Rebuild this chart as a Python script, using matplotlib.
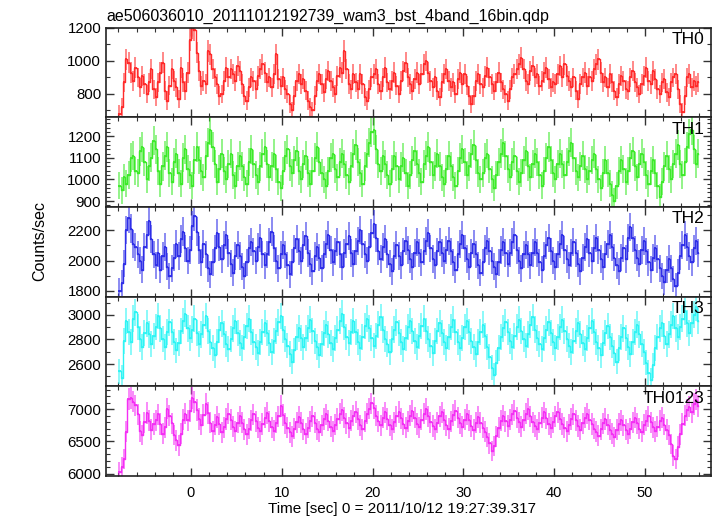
import numpy as np
import matplotlib
matplotlib.use("Agg")
import matplotlib.pyplot as plt
from matplotlib.ticker import MultipleLocator

plt.rcParams["font.family"] = ["Liberation Sans", "DejaVu Sans"]

title = "ae506036010_20111012192739_wam3_bst_4band_16bin.qdp"
xlabel = "Time [sec] 0 = 2011/10/12 19:27:39.317"
ylabel = "Counts/sec"
binsize = 0.25
t_start = -8.0

names = ["TH0", "TH1", "TH2", "TH3", "TH0123"]
colors = ["#ff2a2a", "#3dea2a", "#2e2ee8", "#2ef4f4", "#f42ef4"]

# count rates, 0.25 s bins from t = -8 s
th0 = [680, 720, 870, 1010, 990, 930, 880, 960, 900, 840, 910, 860, 800, 870, 950, 830,
       780, 870, 930, 990, 820, 760, 850, 950, 880, 840, 770, 960, 870, 820, 930, 1130,
       1200, 1190, 1050, 940, 850, 880, 860, 1060, 1040, 950, 900, 860, 790, 800, 880, 960,
       900, 950, 920, 880, 970, 940, 860, 790, 760, 840, 900, 880, 830, 910, 950, 980,
       930, 870, 900, 840, 920, 1040, 890, 850, 900, 830, 800, 740, 700, 790, 880, 920,
       860, 890, 820, 760, 720, 700, 790, 880, 920, 860, 810, 890, 940, 880, 840, 800,
       910, 960, 930, 1060, 950, 860, 830, 920, 870, 830, 920, 860, 780, 760, 830, 900,
       920, 950, 860, 820, 900, 960, 870, 830, 880, 930, 850, 800, 880, 940, 990, 900,
       860, 820, 890, 930, 860, 920, 980, 1000, 930, 880, 840, 900, 820, 780, 870, 920,
       950, 880, 840, 870, 800, 890, 930, 860, 920, 850, 790, 740, 790, 880, 920, 860,
       840, 910, 960, 900, 860, 820, 870, 930, 870, 830, 800, 760, 830, 900, 920, 950,
       980, 1020, 950, 880, 860, 940, 970, 900, 920, 850, 880, 930, 960, 890, 840, 870,
       860, 920, 970, 900, 980, 910, 880, 840, 900, 820, 770, 860, 900, 930, 850, 900,
       880, 950, 980, 1010, 930, 870, 900, 840, 920, 870, 820, 780, 860, 910, 880, 830,
       820, 900, 940, 870, 840, 800, 860, 910, 960, 880, 860, 940, 890, 830, 800, 870,
       890, 810, 780, 870, 900, 920, 830, 740, 690, 790, 900, 920, 840, 880, 850, 870]

th1 = [970, 950, 1010, 980, 1020, 1100, 1110, 1040, 1030, 1130, 1150, 1080, 1000, 1060, 1100, 1180,
       1140, 1040, 980, 1060, 1110, 1150, 1030, 990, 1080, 1120, 1030, 980, 1100, 1140, 1050, 1020,
       970, 1090, 1150, 1090, 1040, 1010, 1110, 1170, 1230, 1150, 1070, 990, 1050, 1120, 1040, 1000,
       1070, 1120, 1020, 970, 1060, 1110, 1060, 1010, 980, 1080, 1140, 1070, 1020, 990, 1060, 1120,
       1150, 1070, 1010, 1060, 1120, 1050, 990, 960, 1040, 1110, 1140, 1060, 1030, 1090, 1130, 1040,
       1000, 1070, 1110, 1030, 980, 1040, 1100, 1150, 1080, 1030, 1000, 970, 1040, 1100, 1120, 1050,
       1010, 1080, 1120, 1070, 1020, 990, 1060, 1120, 1160, 1080, 1030, 980, 1060, 1120, 1170, 1220,
       1230, 1140, 1070, 1040, 1110, 1070, 1020, 980, 1050, 1110, 1060, 1000, 1060, 1100, 1030, 970,
       1020, 1090, 1130, 1070, 1030, 990, 1070, 1110, 1150, 1080, 1020, 1060, 1120, 1060, 1010, 980,
       1050, 1110, 1060, 1010, 970, 1040, 1100, 1140, 1080, 1020, 1060, 1120, 1160, 1090, 1030, 1000,
       1030, 1100, 1120, 1050, 1000, 960, 1020, 1080, 1120, 1170, 1110, 1050, 1010, 1080, 1110, 1040,
       990, 1030, 1090, 1130, 1060, 1010, 1070, 1120, 1080, 1020, 970, 1040, 1100, 1150, 1090, 1030,
       1000, 1070, 1120, 1070, 1020, 1080, 1130, 1170, 1100, 1040, 1010, 1060, 1110, 1050, 1000, 1040,
       1090, 1120, 1050, 1000, 960, 1030, 1090, 1030, 980, 930, 900, 970, 1040, 1090, 1050, 990,
       1040, 1100, 1130, 1060, 1010, 1070, 1120, 1080, 1020, 980, 1040, 1090, 1030, 970, 920, 990,
       1060, 1110, 1050, 1000, 1070, 1120, 1160, 1070, 1020, 1080, 1150, 1210, 1230, 1140, 1070, 1120]

th2 = [1800, 1850, 1980, 2200, 2280, 2210, 2110, 2090, 2040, 2000, 1940, 2090, 2170, 2260, 2140, 2040,
       1970, 2050, 1940, 2030, 2090, 1960, 1900, 1950, 2020, 2110, 2030, 2140, 2190, 2080, 2000, 2070,
       2230, 2290, 2190, 2070, 1990, 2110, 2040, 1950, 1910, 1990, 2080, 2180, 2090, 2010, 2100, 2170,
       2050, 1980, 1920, 2030, 2100, 2030, 1960, 1900, 1990, 2080, 2120, 2060, 2000, 2090, 2150, 2040,
       1970, 2040, 2120, 2190, 2080, 2000, 1950, 2040, 2100, 2040, 1970, 1910, 1990, 2080, 2140, 2060,
       2000, 2100, 2160, 2050, 1980, 1930, 2030, 2090, 2020, 1950, 2040, 2110, 2170, 2070, 1990, 2060,
       2120, 2040, 1960, 2050, 2110, 2160, 2050, 1980, 2060, 2130, 2200, 2110, 2040, 2000, 2090, 2180,
       2240, 2150, 2060, 2010, 2090, 2140, 2040, 1980, 1930, 2030, 2100, 2030, 1970, 2060, 2130, 2070,
       2010, 1960, 2050, 2120, 2050, 1990, 2060, 2130, 2180, 2080, 2010, 1970, 2060, 2120, 2050, 2000,
       2070, 2130, 2060, 1990, 1940, 2040, 2110, 2170, 2080, 2010, 1960, 2050, 2110, 2040, 1970, 1920,
       1990, 2080, 2130, 2060, 2000, 1960, 1910, 1990, 2070, 2120, 2050, 1980, 2050, 2120, 2170, 2070,
       2000, 1950, 2040, 2100, 2040, 1970, 2050, 2120, 2050, 1990, 1940, 2030, 2100, 2150, 2060, 2000,
       1960, 2040, 2110, 2170, 2070, 2010, 1970, 2050, 2120, 2050, 1980, 1930, 2020, 2090, 2140, 2050,
       2000, 2080, 2150, 2070, 2010, 1960, 2040, 2110, 2170, 2090, 2020, 1970, 1930, 2020, 2080, 2010,
       2150, 2220, 2150, 2070, 2020, 1980, 2070, 2130, 2060, 1990, 1940, 2020, 2080, 2010, 1950, 1900,
       1860, 1940, 2010, 1950, 1880, 1830, 1920, 2030, 2100, 2170, 2090, 2030, 1990, 2080, 2130, 2050]

th3 = [2540, 2490, 2790, 2950, 2860, 2780, 2970, 3020, 2900, 2800, 2740, 2850, 2930, 2840, 2760, 2830,
       2900, 2990, 2890, 2800, 2740, 2860, 2940, 2860, 2780, 2710, 2770, 2870, 2950, 3010, 2890, 2810,
       2880, 2970, 2850, 2760, 2840, 2920, 2990, 2870, 2780, 2730, 2670, 2780, 2880, 2930, 2840, 2760,
       2720, 2800, 2890, 2950, 2850, 2770, 2730, 2820, 2910, 2970, 2860, 2780, 2740, 2690, 2780, 2860,
       2930, 2850, 2770, 2700, 2790, 2870, 2940, 2990, 2880, 2800, 2750, 2680, 2620, 2710, 2820, 2890,
       2810, 2740, 2810, 2890, 2960, 2870, 2790, 2740, 2670, 2760, 2850, 2920, 2840, 2770, 2720, 2810,
       2880, 2950, 3010, 2900, 2820, 2770, 2860, 2950, 2860, 2780, 2730, 2820, 2910, 2970, 2890, 2810,
       2750, 2830, 2920, 2980, 2880, 2800, 2760, 2700, 2800, 2880, 2940, 2850, 2780, 2720, 2810, 2900,
       2950, 2870, 2790, 2740, 2830, 2910, 2970, 2870, 2800, 2750, 2690, 2790, 2870, 2930, 2850, 2780,
       2730, 2820, 2900, 2960, 2860, 2780, 2730, 2810, 2900, 2950, 2860, 2790, 2740, 2680, 2780, 2860,
       2920, 2830, 2740, 2660, 2570, 2510, 2610, 2730, 2820, 2890, 2940, 2860, 2790, 2740, 2830, 2900,
       2960, 2870, 2800, 2750, 2840, 2920, 2980, 2880, 2810, 2760, 2720, 2810, 2880, 2940, 2850, 2780,
       2730, 2820, 2900, 2960, 2870, 2800, 2750, 2700, 2790, 2870, 2930, 2840, 2770, 2720, 2810, 2890,
       2950, 2860, 2780, 2730, 2670, 2770, 2850, 2910, 2820, 2750, 2690, 2620, 2730, 2820, 2890, 2810,
       2740, 2680, 2780, 2860, 2920, 2840, 2760, 2700, 2610, 2530, 2470, 2590, 2730, 2820, 2890, 2930,
       2830, 2760, 2840, 2920, 2990, 2890, 2820, 2900, 2970, 3030, 2930, 2850, 2930, 3000, 3060, 2950]

th0123 = [6020, 6100, 6230, 6650, 7160, 7180, 7120, 7060, 6920, 6660, 6600, 6800, 6940, 6820, 6680, 6770,
          6830, 6920, 6770, 6620, 6720, 7010, 6900, 6780, 6600, 6520, 6440, 6620, 6840, 6930, 6830, 6970,
          7180, 7110, 6990, 6850, 6760, 6910, 7080, 6940, 6790, 6660, 6760, 6880, 6770, 6640, 6720, 6850,
          6930, 6840, 6730, 6660, 6790, 6890, 6790, 6690, 6610, 6700, 6830, 6920, 6810, 6710, 6660, 6770,
          6870, 6940, 6810, 6720, 6670, 6790, 6890, 7050, 6910, 6780, 6710, 6640, 6580, 6700, 6800, 6880,
          6790, 6690, 6620, 6710, 6810, 6890, 6790, 6690, 6650, 6750, 6850, 6920, 6820, 6730, 6660, 6760,
          6850, 6930, 6990, 6870, 6780, 6710, 6820, 6900, 6960, 6850, 6750, 6690, 6810, 6930, 7010, 7090,
          7020, 6900, 6810, 6750, 6870, 6950, 6850, 6750, 6690, 6800, 6890, 6960, 6860, 6770, 6710, 6810,
          6900, 6970, 6870, 6770, 6720, 6840, 6930, 7000, 6890, 6800, 6740, 6690, 6790, 6890, 6950, 6840,
          6750, 6700, 6810, 6910, 6980, 6870, 6780, 6730, 6840, 6920, 6830, 6740, 6680, 6790, 6880, 6790,
          6710, 6650, 6570, 6470, 6350, 6430, 6580, 6710, 6820, 6900, 6810, 6740, 6840, 6920, 6980, 6870,
          6800, 6730, 6830, 6930, 7000, 6890, 6800, 6740, 6690, 6790, 6870, 6950, 6860, 6770, 6710, 6800,
          6890, 6950, 6850, 6770, 6710, 6660, 6760, 6850, 6920, 6830, 6740, 6680, 6780, 6870, 6930, 6840,
          6770, 6700, 6650, 6590, 6690, 6780, 6850, 6760, 6680, 6620, 6570, 6680, 6770, 6830, 6750, 6680,
          6620, 6700, 6800, 6870, 6780, 6700, 6650, 6760, 6820, 6890, 6800, 6720, 6660, 6730, 6820, 6870,
          6760, 6680, 6600, 6460, 6280, 6230, 6420, 6610, 6770, 6900, 6990, 7040, 6950, 7080, 7150, 7050]

series = [th0, th1, th2, th3, th0123]
ylims = [(659, 1203), (873, 1288), (1763, 2353), (2419, 3148), (5964, 7356)]
majors = [200, 100, 200, 200, 500]
minors = [100, 20, 100, 100, 100]

fig = plt.figure(figsize=(7.17, 5.16), dpi=100)
gs = fig.add_gridspec(5, 1, left=106/717, right=711/717, top=1-27.5/516, bottom=1-476/516, hspace=0)

for i, (name, col, vals) in enumerate(zip(names, colors, series)):
    ax = fig.add_subplot(gs[i])
    rate = np.array(vals, dtype=float)
    t = t_start + binsize * (np.arange(len(rate)) + 0.5)
    err = np.sqrt(rate / binsize)
    ax.errorbar(t, rate, yerr=err, fmt="none", ecolor=col, elinewidth=1.3, alpha=0.6)
    ax.errorbar(t, rate, xerr=binsize/2, fmt="none", ecolor=col, elinewidth=1.3)
    ax.plot(t, rate, drawstyle="steps-mid", color=col, lw=1.0)
    ax.set_xlim(-9.36, 57.27)
    ax.set_ylim(*ylims[i])
    ax.xaxis.set_major_locator(MultipleLocator(10))
    ax.xaxis.set_minor_locator(MultipleLocator(2))
    ax.yaxis.set_major_locator(MultipleLocator(majors[i]))
    ax.yaxis.set_minor_locator(MultipleLocator(minors[i]))
    ax.tick_params(which="both", direction="in", top=True, right=True, colors="#333333",
                   labelcolor="black", labelsize=10.8)
    ax.tick_params(which="major", length=6, width=1)
    ax.tick_params(which="minor", length=3, width=0.8)
    ax.tick_params(axis="x", which="major", pad=7, labelsize=10.5)
    for s in ax.spines.values():
        s.set_linewidth(1.2)
        s.set_color("#222222")
    if i < 4:
        ax.tick_params(labelbottom=False)
    fig.text(704/717, 1 - (32 + 89.7 * i)/516, name, ha="right", va="top", fontsize=12.5)

fig.text(106/717, 1 - 20.5/516, title, ha="left", va="baseline", fontsize=11.5)
fig.text(40/717, 1 - 241/516, ylabel, rotation=90, ha="center", va="center", fontsize=11.5)
fig.text(402/717, 1 - 512.5/516, xlabel, ha="center", va="baseline", fontsize=11)

fig.savefig("out.png", dpi=100)
